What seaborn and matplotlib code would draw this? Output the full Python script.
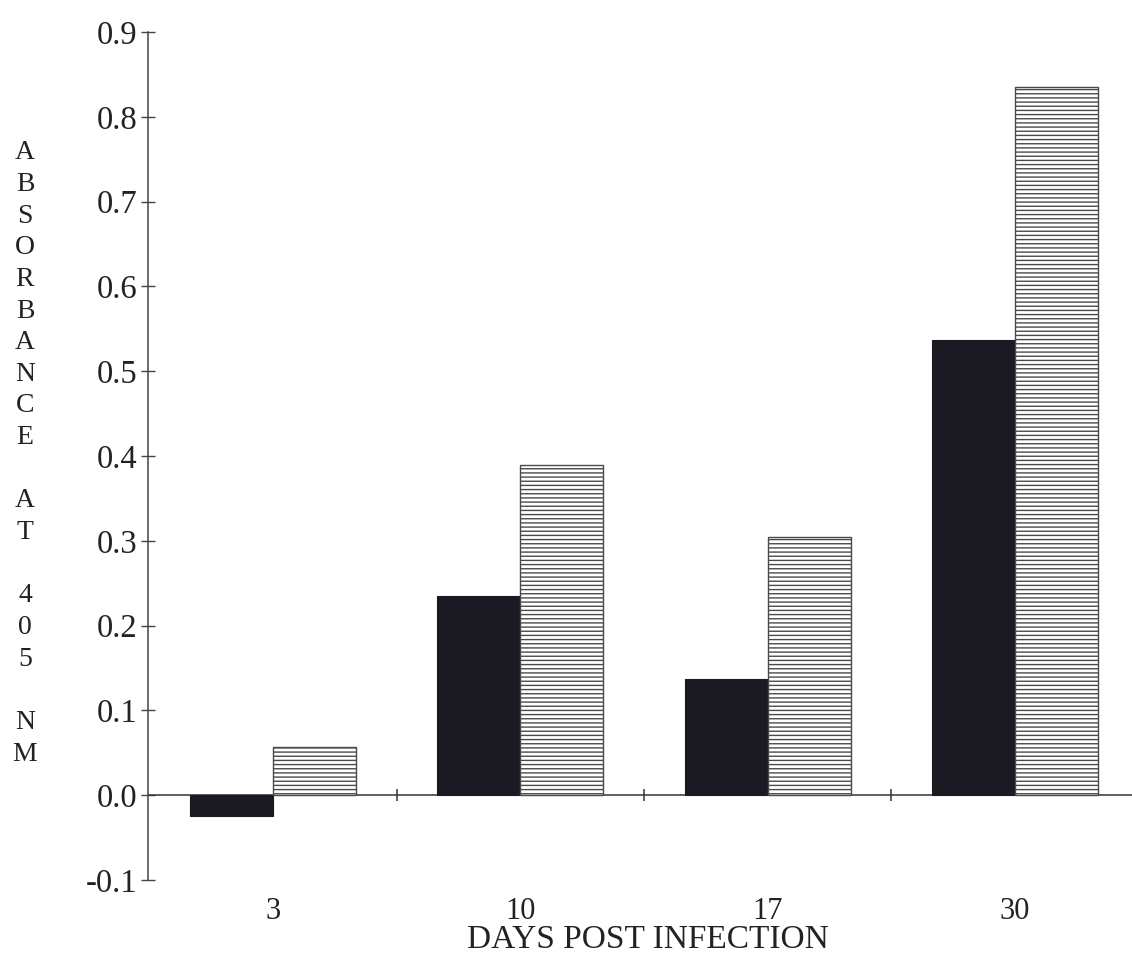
import numpy as np
import pandas as pd
import matplotlib
matplotlib.use("Agg")
import matplotlib.pyplot as plt
import seaborn as sns

# ---- data ----
days = ["3", "10", "17", "30"]
series_names = ["solid", "hatched"]
solid_values = [-0.025, 0.235, 0.137, 0.537]
hatched_values = [0.057, 0.389, 0.305, 0.835]
y_ticks = [-0.1, 0.0, 0.1, 0.2, 0.3, 0.4, 0.5, 0.6, 0.7, 0.8, 0.9]
x_title = "DAYS POST INFECTION"
y_title_words = ["ABSORBANCE", "AT", "405", "NM"]

df = pd.DataFrame({
    "day": days * 2,
    "series": [series_names[0]] * len(days) + [series_names[1]] * len(days),
    "value": solid_values + hatched_values,
})

sns.set_style("white")
plt.rcParams["font.family"] = ["Liberation Serif", "DejaVu Serif"]
plt.rcParams["axes.unicode_minus"] = False
plt.rcParams["hatch.linewidth"] = 1.0
plt.rcParams["hatch.color"] = "#4a4a4a"

fig = plt.figure(figsize=(11.32, 9.57), dpi=100)
ax = fig.add_axes([148 / 1132, 1 - 880 / 957, 984 / 1132, 848 / 957])

sns.barplot(data=df, x="day", y="value", hue="series", order=days,
            hue_order=series_names, palette=["#1b1a22", "white"],
            width=0.67, saturation=1, legend=False, ax=ax, zorder=3)

for bar in ax.containers[0]:
    bar.set_edgecolor("#1b1a22")
    bar.set_linewidth(0.8)
for bar in ax.containers[1]:
    bar.set_facecolor("white")
    bar.set_edgecolor("#4a4a4a")
    bar.set_hatch("----")
    bar.set_linewidth(1.0)

ax.set_xlim(-0.5055, 3.473)
ax.set_ylim(-0.1, 0.9)

for s in ["top", "right", "bottom"]:
    ax.spines[s].set_visible(False)
ax.spines["left"].set_color("#444444")
ax.spines["left"].set_linewidth(1.1)

# zero line with small crossing ticks between groups
ax.axhline(0, color="#333333", lw=1.1, zorder=2)
ax.vlines(np.arange(len(days) - 1) + 0.5, -0.007, 0.007, color="#333333", lw=1.1, zorder=2)

ax.set_yticks(y_ticks)
ax.set_yticklabels([f"{v:.1f}" for v in y_ticks])
ax.tick_params(axis="y", left=True, direction="inout", length=9.4, width=1, color="#444444",
               pad=3.2, labelsize=23.5, labelcolor="#222222")
ax.tick_params(axis="x", bottom=True, length=0, pad=12, labelsize=22, labelcolor="#222222")

ax.set_xlabel(x_title, fontsize=24, color="#222222", va="baseline")
ax.xaxis.set_label_coords((648 - 148) / 984, (880 - 948) / 848)

ylab = "\n\n".join("\n".join(list(w)) for w in y_title_words)
ax.set_ylabel(ylab, rotation=0, fontsize=20, color="#222222", linespacing=1.35,
              ha="center", va="center", multialignment="center")
ax.yaxis.set_label_coords((25 - 148) / 984, 0.503)

ax.grid(False)
fig.savefig("out.png", dpi=100, facecolor="white")
